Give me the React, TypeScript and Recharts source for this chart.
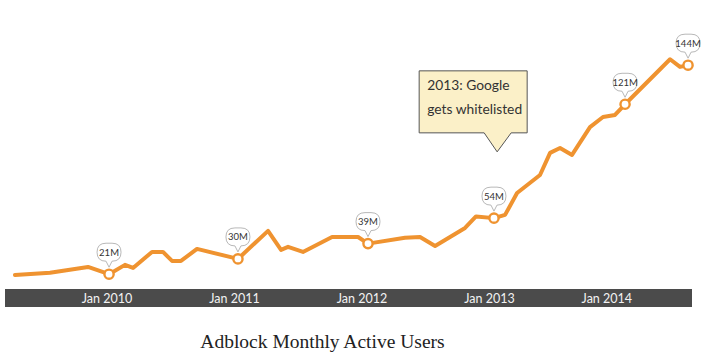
import React from 'react';
import { LineChart, Line, XAxis, YAxis, ReferenceDot } from 'recharts';

// decimal-year position of each monthly reading
const dates = [
  2009.278, 2009.553, 2009.851, 2010.016, 2010.141, 2010.204, 2010.353, 2010.439,
  2010.51, 2010.58, 2010.706, 2011.027, 2011.263, 2011.365, 2011.42, 2011.537,
  2011.765, 2011.969, 2012.047, 2012.337, 2012.455, 2012.573, 2012.808, 2012.894,
  2013.035, 2013.122, 2013.216, 2013.396, 2013.475, 2013.553, 2013.647, 2013.788,
  2013.89, 2013.984, 2014.063, 2014.416, 2014.494, 2014.557,
];
// monthly active users, millions
const users = [
  20.6, 21.8, 25.3, 21, 26.5, 24.7, 34.1, 34.1,
  28.8, 28.8, 35.9, 30, 46.5, 35.3, 37.1, 34.1,
  42.9, 42.9, 39, 42.4, 42.9, 37.6, 48.2, 55.0,
  54, 55.9, 68.8, 79.4, 92.4, 95.3, 91.2, 107.6,
  113.5, 114.7, 121, 147.5, 143, 144,
];
// callout labels on highlighted readings
const markers = [
  '', '', '', '21M', '', '', '', '',
  '', '', '', '30M', '', '', '', '',
  '', '', '39M', '', '', '', '', '',
  '54M', '', '', '', '', '', '', '',
  '', '', '121M', '', '', '144M',
];

const tickValues = [2010, 2011, 2012, 2013, 2013.92];
const tickLabels = ['Jan 2010', 'Jan 2011', 'Jan 2012', 'Jan 2013', 'Jan 2014'];

const noteLines = ['2013: Google', 'gets whitelisted'];
const noteDate = 2013.06;
const noteValue = 93;

const title = 'Adblock Monthly Active Users';

const data = dates.map((t, i) => ({ t, v: users[i], m: markers[i] }));

const ORANGE = '#ef9330';

const MarkerDot = (props: any) => {
  const { cx, cy, payload, index } = props;
  if (!payload || !payload.m) return <g key={`d${index}`} />;
  const w = 24;
  const l = cx - w / 2;
  const r = cx + w / 2;
  const t = cy - 31;
  const b = cy - 13;
  const rad = 9;
  const tip = cy - 7;
  const d = `M ${cx - 3} ${b} L ${l + rad} ${b} Q ${l} ${b} ${l} ${b - rad} L ${l} ${t + rad} Q ${l} ${t} ${l + rad} ${t} L ${r - rad} ${t} Q ${r} ${t} ${r} ${t + rad} L ${r} ${b - rad} Q ${r} ${b} ${r - rad} ${b} L ${cx + 3} ${b} L ${cx} ${tip} Z`;
  return (
    <g key={`d${index}`}>
      <path d={d} fill="#fff" stroke="#b8b8b8" strokeWidth={1} />
      <text
        x={cx}
        y={(t + b) / 2}
        dy={3.4}
        textAnchor="middle"
        fontFamily="Lato, 'Open Sans', sans-serif"
        fontSize={9.5}
        fill="#333"
      >
        {payload.m}
      </text>
      <circle cx={cx} cy={cy} r={4.6} fill="#fff" stroke={ORANGE} strokeWidth={2.4} />
    </g>
  );
};

const NoteShape = (props: any) => {
  const { cx, cy } = props;
  const l = cx - 78;
  const r = cx + 30;
  const t = cy - 81;
  const b = cy - 19;
  const d = `M ${l} ${t} L ${r} ${t} L ${r} ${b} L ${cx + 14} ${b} L ${cx} ${cy} L ${cx - 13} ${b} L ${l} ${b} Z`;
  return (
    <g>
      <path d={d} fill="#fbf0c8" stroke="#555" strokeWidth={1} />
      {noteLines.map((s, i) => (
        <text
          key={i}
          x={l + 8}
          y={t + 19 + i * 24}
          fontFamily="Lato, 'Open Sans', sans-serif"
          fontSize={13.8}
          fill="#333"
        >
          {s}
        </text>
      ))}
    </g>
  );
};

const AxisTick = (props: any) => {
  const { x, y, payload } = props;
  const idx = tickValues.indexOf(payload.value);
  return (
    <text
      x={x}
      y={y}
      dy={4.5}
      textAnchor="middle"
      fontFamily="Lato, 'Open Sans', sans-serif"
      fontSize={12.5}
      fill="#f2f2f2"
    >
      {idx >= 0 ? tickLabels[idx] : ''}
    </text>
  );
};

export default function App() {
  return (
    <div style={{ position: 'absolute', left: 0, top: 0, width: 705, height: 354, background: '#fff' }}>
      <LineChart
        width={705}
        height={308}
        data={data}
        margin={{ top: 21, right: 13, bottom: 0, left: 5 }}
        style={{ overflow: 'visible' }}
      >
        <XAxis
          dataKey="t"
          type="number"
          domain={[2009.2, 2014.588]}
          ticks={tickValues}
          interval={0}
          height={10}
          tickLine={false}
          tickSize={0}
          tickMargin={0}
          axisLine={{ stroke: '#4b4b4b', strokeWidth: 18 }}
          tick={<AxisTick />}
        />
        <YAxis hide type="number" domain={[7, 170]} />
        <Line
          type="linear"
          dataKey="v"
          stroke={ORANGE}
          strokeWidth={4}
          strokeLinejoin="round"
          strokeLinecap="round"
          dot={MarkerDot}
          activeDot={false}
          isAnimationActive={false}
        />
        <ReferenceDot x={noteDate} y={noteValue} shape={NoteShape} ifOverflow="visible" />
      </LineChart>
      <div
        style={{
          position: 'absolute',
          left: 0,
          top: 330,
          width: 645,
          textAlign: 'center',
          fontFamily: "'Liberation Serif', 'DejaVu Serif', serif",
          fontSize: 19.5,
          lineHeight: '24px',
          color: '#222',
        }}
      >
        {title}
      </div>
    </div>
  );
}
